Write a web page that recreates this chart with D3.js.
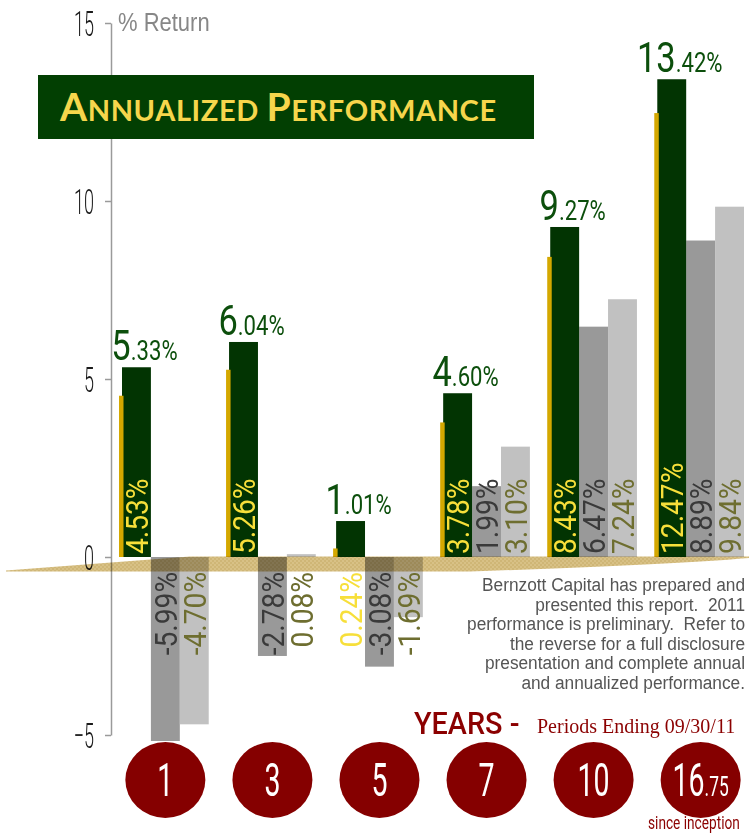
<!DOCTYPE html>
<html>
<head>
<meta charset="utf-8">
<script src="https://cdn.jsdelivr.net/npm/d3@7"></script>
<style>
  html, body { margin: 0; padding: 0; background: #fff; }
  svg { display: block; }
  .pre { white-space: pre; }
</style>
</head>
<body>
<svg id="chart" width="749" height="835"></svg>
<script>
// Annualized returns (%) by period length in years
const periods = ["1", "3", "5", "7", "10", "16.75"];
const composite = [5.33, 6.04, 1.01, 4.60, 9.27, 13.42];
const compositeNet = [4.53, 5.26, 0.24, 3.78, 8.43, 12.47];
const benchmarkA = [-5.99, -2.78, -3.08, 1.99, 6.47, 8.89];
const benchmarkB = [-4.70, 0.08, -1.69, 3.10, 7.24, 9.84];
const yTicks = [-5, 0, 5, 10, 15];
const disclaimer = [
  "Bernzott Capital has prepared and",
  "presented this report.  2011",
  "performance is preliminary.  Refer to",
  "the reverse for a full disclosure",
  "presentation and complete annual",
  "and annualized performance."
];

const C = {
  green: "#023402",
  greenText: "#0c4f0c",
  gold: "#d4a800",
  yellow: "#f7df3a",
  gray: "#999999",
  grayText: "#3a3a3a",
  light: "#c1c1c1",
  lightText: "#6e6e30",
  red: "#850000",
  banner: "#023f02",
  bannerText: "#f6d64c"
};
const NUM = "Roboto, 'DejaVu Sans', sans-serif";
const NARROW = "'Liberation Sans', Arial, sans-serif";

const svg = d3.select("#chart");
const defs = svg.append("defs");

// checkered tan texture for the floor
const pat = defs.append("pattern")
  .attr("id", "floorTex").attr("patternUnits", "userSpaceOnUse")
  .attr("width", 4).attr("height", 4);
pat.append("rect").attr("width", 4).attr("height", 4).attr("fill", "#d8c186");
pat.append("rect").attr("width", 2).attr("height", 2).attr("fill", "#cfb676");
pat.append("rect").attr("x", 2).attr("y", 2).attr("width", 2).attr("height", 2).attr("fill", "#cfb676");

const y = d3.scaleLinear().domain([-5, 15]).range([735, 23]);
const x = d3.scaleBand().domain(periods).range([122, 744]).paddingInner(0.19).paddingOuter(0);
const sub = d3.scaleBand().domain(["main", "a", "b"]).range([0, x.bandwidth()]);
const bw = sub.bandwidth();

// bars stop just below the -5 gridline
defs.append("clipPath").attr("id", "plotClip")
  .append("rect").attr("x", 0).attr("y", 0).attr("width", 749).attr("height", y(-5.17));

const rows = periods.map((p, i) => ({
  p, main: composite[i], net: compositeNet[i], a: benchmarkA[i], b: benchmarkB[i]
}));

// ---- y axis ----
const axis = d3.axisLeft(y).tickValues(yTicks).tickSize(6).tickSizeOuter(0).tickFormat(d3.format("d"));
const ax = svg.append("g").attr("transform", "translate(111,0)").call(axis);
ax.select(".domain").attr("stroke", "#9a9a9a").attr("stroke-width", 1.5);
ax.selectAll(".tick line").attr("stroke", "#9a9a9a").attr("stroke-width", 1.5);
ax.selectAll(".tick text")
  .attr("x", 0).attr("dy", "0.36em")
  .attr("transform", "translate(-17,0) scale(0.5,1)")
  .attr("fill", "#1a1a1a")
  .style("font-family", NUM).style("font-weight", 300).style("font-size", "36px");

svg.append("text")
  .attr("transform", "translate(118,31) scale(0.88,1)")
  .attr("fill", "#878787")
  .style("font-family", NARROW).style("font-size", "25px")
  .text("% Return");

// ---- bars ----
const groups = svg.append("g").attr("clip-path", "url(#plotClip)")
  .selectAll("g.grp").data(rows).join("g")
  .attr("class", "grp").attr("transform", d => `translate(${x(d.p)},0)`);

function barY(v) { return y(Math.max(0, v)); }
function barH(v) { return Math.abs(y(v) - y(0)); }

groups.append("rect").attr("x", sub("a")).attr("width", bw)
  .attr("y", d => barY(d.a)).attr("height", d => barH(d.a)).attr("fill", C.gray);
groups.append("rect").attr("x", sub("b")).attr("width", bw)
  .attr("y", d => barY(d.b)).attr("height", d => barH(d.b)).attr("fill", C.light);
groups.append("rect").attr("x", sub("main")).attr("width", bw)
  .attr("y", d => barY(d.main)).attr("height", d => barH(d.main)).attr("fill", C.green);
groups.append("rect").attr("x", sub("main") - 3).attr("width", 4.5)
  .attr("y", d => barY(d.net)).attr("height", d => barH(d.net)).attr("fill", C.gold);

// rotated value labels: inside the bar when there is room, otherwise below the floor
function vLabel(sel, key, color, inset) {
  sel.append("text")
    .attr("transform", d => {
      const v = d[key];
      const bx = sub(key === "net" ? "main" : key) + bw - inset;
      if (v > 0.5) return `translate(${bx},${y(0) - 3}) rotate(-90) scale(0.88,1)`;
      return `translate(${bx},${y(0) + 15}) rotate(-90) scale(0.88,1)`;
    })
    .attr("text-anchor", d => d[key] > 0.5 ? "start" : "end")
    .attr("fill", color)
    .style("font-family", NUM).style("font-size", "32px")
    .text(d => d[key].toFixed(2) + "%");
}
vLabel(groups, "net", C.yellow, 3);
vLabel(groups, "a", C.grayText, 3);
vLabel(groups, "b", C.lightText, 3);

// headline labels above the main bars
const head = svg.append("g").selectAll("text").data(rows).join("text")
  .attr("transform", d => `translate(${x(d.p) + sub("main") + bw / 2 + 8},${y(d.main) - 7}) scale(0.82,1)`)
  .attr("text-anchor", "middle")
  .attr("fill", C.greenText)
  .style("font-family", NUM);
head.append("tspan").style("font-size", "42px").text(d => d.main.toFixed(2).split(".")[0]);
head.append("tspan").style("font-size", "27px").text(d => "." + d.main.toFixed(2).split(".")[1] + "%");

// ---- floor ----
const y0 = y(0);
svg.append("path")
  .attr("d", `M6,${y0 + 13.5} L190,${y0 - 0.5} L749,${y0 - 0.5} L749,${y0 + 1}
              C690,${y0 + 6} 600,${y0 + 10} 470,${y0 + 14.5} L6,${y0 + 14.5} Z`)
  .attr("fill", "url(#floorTex)")
  .style("mix-blend-mode", "multiply");

// ---- title banner ----
svg.append("rect").attr("x", 38).attr("y", 75).attr("width", 496).attr("height", 64).attr("fill", C.banner);
const title = svg.append("text").attr("x", 60).attr("y", 121)
  .attr("fill", C.bannerText)
  .style("letter-spacing", "0.6px")
  .style("font-family", "Lato, 'Open Sans', sans-serif").style("font-weight", 700);
[["A", 39], ["NNUALIZED ", 29], ["P", 39], ["ERFORMANCE", 29]].forEach(([t, s]) =>
  title.append("tspan").style("font-size", s + "px").text(t));

// ---- disclaimer ----
svg.append("g").selectAll("text").data(disclaimer).join("text")
  .attr("class", "pre")
  .attr("transform", (d, i) => `translate(745,${591 + i * 19.6}) scale(0.96,1)`)
  .attr("text-anchor", "end")
  .attr("fill", "#555")
  .style("font-family", NARROW).style("font-size", "18px")
  .text(d => d);

// ---- period footer ----
svg.append("text")
  .attr("transform", "translate(414,734) scale(0.9,1)")
  .attr("fill", "#8b0000")
  .style("font-family", NUM).style("font-weight", 500).style("font-size", "32px")
  .text("YEARS -");
svg.append("text")
  .attr("x", 537).attr("y", 733)
  .attr("fill", "#8b0000")
  .style("font-family", "'Liberation Serif', 'Times New Roman', serif").style("font-size", "20px")
  .text("Periods Ending 09/30/11");

const pills = svg.append("g").selectAll("g").data(periods).join("g")
  .attr("transform", d => `translate(${x(d) + x.bandwidth() / 2},780)`);
pills.append("ellipse").attr("rx", 40).attr("ry", 38).attr("fill", C.red);
const pillText = pills.append("text")
  .attr("transform", "translate(0,16) scale(0.62,1)")
  .attr("text-anchor", "middle")
  .attr("fill", "#fff")
  .style("font-family", NUM).style("font-weight", 400);
pillText.append("tspan").style("font-size", "46px").text(d => d.split(".")[0]);
pillText.append("tspan").style("font-size", "28px").text(d => d.includes(".") ? "." + d.split(".")[1] : "");

svg.append("text")
  .attr("transform", "translate(648,829) scale(0.72,1)")
  .attr("fill", "#8b0000")
  .style("font-family", NUM).style("font-size", "19px")
  .text("since inception");
</script>
</body>
</html>
